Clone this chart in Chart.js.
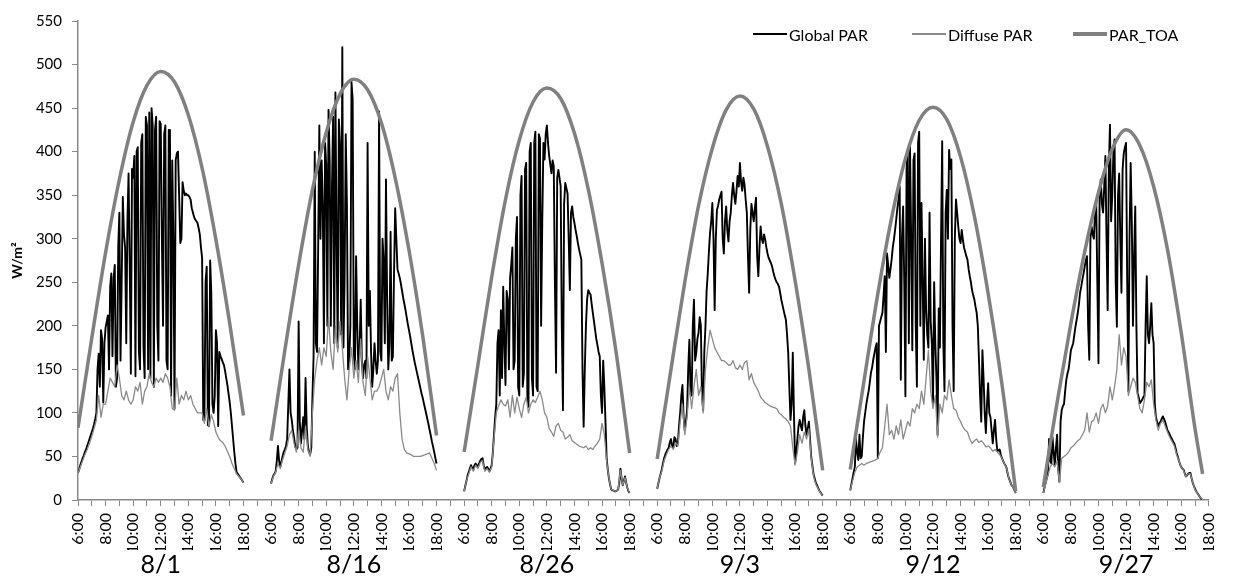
<!DOCTYPE html>
<html>
<head>
<meta charset="utf-8">
<script src="https://cdn.jsdelivr.net/npm/chart.js"></script>
<style>
  body { margin: 0; background: #fff; }
  #wrap { position: relative; width: 1235px; height: 577px; }
  .key { position: absolute; top: 25px; height: 18px; display: flex; align-items: center;
         font: 16px Lato, sans-serif; color: #000; white-space: nowrap; }
  .key i { display: inline-block; width: 34px; margin-right: 2px; }
</style>
</head>
<body>
<div id="wrap">
  <canvas id="parChart" width="1235" height="577"></canvas>
  <div class="key" style="left:753px"><i style="border-top:2px solid #000"></i>Global PAR</div>
  <div class="key" style="left:912px"><i style="border-top:2px solid #8a8a8a"></i>Diffuse PAR</div>
  <div class="key" style="left:1073px"><i style="border-top:4px solid #808080"></i>PAR_TOA</div>
</div>
<script>
// one day = 14 hour slots on the x axis (6:00..18:00 plus a 2 h gap)
var days = ['8/1', '8/16', '8/26', '9/3', '9/12', '9/27'];
var fiveMin = Array.from({ length: 145 }, function (_, i) { return 6 + i / 12; });
var tenMin = Array.from({ length: 73 }, function (_, i) { return 6 + i / 6; });
var toaHours = [6, 7, 8, 9, 10, 11, 12, 13, 14, 15, 16, 17, 18];
var toaHours0927 = [6, 7, 8, 9, 10, 11, 12, 13, 14, 15, 16, 17, 17.55];

// Global PAR, 5 min steps 6:00..18:00 (one row per hour), W/m2
var global0801 = [
  31, 35, 40, 44, 48, 51, 55, 58, 62, 66, 70, 74,
  78, 82, 87, 93, 100, 150, 168, 130, 195, 185, 112, 180,
  198, 205, 212, 150, 245, 260, 165, 255, 270, 130, 140, 290,
  330, 160, 250, 348, 305, 290, 180, 320, 375, 270, 145, 380,
  370, 395, 142, 400, 405, 170, 150, 410, 420, 175, 140, 440,
  430, 150, 445, 140, 450, 430, 130, 425, 440, 200, 160, 435,
  432, 300, 200, 420, 430, 160, 150, 425, 425, 120, 390, 300,
  105, 390, 398, 400, 350, 295, 300, 365, 355, 350, 352, 350,
  350, 348, 345, 335, 330, 325, 322, 320, 318, 312, 305, 290,
  278, 92, 92, 250, 268, 86, 85, 275, 238, 110, 100, 120,
  195, 180, 85, 170, 165, 162, 158, 155, 148, 140, 132, 122,
  112, 100, 85, 70, 55, 42, 32, 30, 28, 26, 24, 22,
  20];
var global0816 = [
  19, 24, 28, 30, 33, 45, 62, 45, 38, 44, 50, 55,
  58, 62, 70, 110, 150, 100, 92, 80, 72, 62, 58, 60,
  205, 90, 65, 80, 95, 70, 140, 85, 62, 55, 52, 60,
  118, 165, 400, 180, 170, 290, 430, 300, 390, 340, 180, 410,
  385, 200, 448, 390, 200, 360, 440, 180, 468, 300, 175, 437,
  410, 190, 520, 175, 255, 420, 340, 150, 160, 200, 480, 460,
  170, 150, 280, 200, 150, 170, 230, 160, 140, 155, 160, 140,
  410, 200, 240, 170, 130, 150, 180, 160, 145, 160, 446, 170,
  160, 300, 275, 180, 368, 230, 150, 180, 308, 160, 165, 260,
  335, 300, 265, 260, 255, 248, 240, 232, 225, 218, 210, 202,
  195, 188, 180, 172, 165, 158, 152, 146, 140, 134, 128, 122,
  117, 111, 105, 99, 93, 87, 80, 74, 67, 61, 55, 48,
  42];
var global0826 = [
  10, 16, 22, 28, 32, 36, 40, 37, 35, 40, 42, 40,
  38, 42, 45, 47, 48, 40, 35, 37, 38, 36, 33, 36,
  40, 55, 75, 95, 110, 180, 195, 120, 218, 140, 245, 180,
  132, 240, 230, 150, 255, 270, 290, 150, 160, 300, 325, 130,
  120, 350, 372, 130, 145, 380, 387, 120, 107, 400, 410, 140,
  120, 410, 423, 130, 125, 420, 415, 200, 320, 410, 391, 420,
  430, 410, 395, 385, 375, 390, 383, 250, 146, 370, 379, 370,
  360, 200, 103, 340, 364, 358, 352, 300, 241, 330, 337, 325,
  318, 310, 303, 295, 288, 282, 276, 150, 84, 150, 200, 230,
  241, 238, 236, 225, 215, 205, 195, 185, 178, 170, 165, 120,
  100, 160, 130, 90, 48, 35, 25, 18, 12, 11, 11, 10,
  10, 11, 12, 20, 36, 25, 17, 22, 27, 20, 14, 10,
  8];
var global0903 = [
  13, 19, 25, 30, 35, 42, 48, 52, 55, 58, 60, 66,
  70, 62, 60, 72, 70, 62, 65, 85, 100, 120, 132, 95,
  80, 90, 103, 150, 184, 125, 120, 200, 230, 160, 169, 185,
  192, 210, 200, 120, 103, 170, 199, 240, 260, 285, 307, 320,
  341, 300, 218, 300, 333, 338, 345, 350, 354, 300, 283, 320,
  337, 310, 297, 320, 330, 350, 364, 350, 340, 355, 372, 360,
  387, 365, 355, 370, 362, 345, 330, 280, 238, 310, 340, 330,
  320, 335, 347, 280, 257, 290, 314, 300, 295, 305, 299, 290,
  283, 278, 275, 272, 268, 262, 257, 253, 250, 248, 245, 238,
  230, 224, 218, 212, 207, 190, 169, 130, 92, 110, 169, 100,
  42, 55, 70, 85, 92, 85, 80, 95, 103, 85, 75, 82,
  90, 70, 50, 40, 30, 25, 20, 17, 14, 11, 9, 7,
  5];
var global0912 = [
  11, 18, 25, 32, 38, 70, 55, 46, 75, 48, 50, 72,
  90, 100, 110, 118, 125, 135, 146, 152, 161, 168, 175, 180,
  48, 200, 205, 210, 215, 235, 257, 170, 283, 270, 255, 265,
  276, 290, 299, 310, 322, 335, 345, 360, 138, 300, 337, 250,
  119, 380, 402, 180, 406, 300, 172, 390, 398, 200, 130, 410,
  423, 200, 341, 250, 161, 300, 218, 190, 175, 330, 205, 180,
  110, 250, 180, 140, 75, 220, 175, 300, 412, 180, 125, 330,
  356, 300, 402, 380, 391, 200, 125, 300, 345, 330, 314, 300,
  295, 310, 299, 290, 285, 280, 276, 265, 257, 250, 241, 235,
  230, 222, 215, 200, 161, 120, 90, 172, 140, 100, 77, 110,
  134, 100, 95, 80, 65, 80, 92, 70, 56, 57, 58, 52,
  48, 45, 42, 40, 37, 30, 25, 22, 18, 16, 14, 11,
  8];
var global0927 = [
  8, 14, 20, 25, 30, 70, 45, 42, 72, 55, 40, 60,
  75, 35, 21, 90, 103, 108, 110, 125, 138, 145, 150, 160,
  172, 176, 180, 190, 199, 207, 215, 225, 238, 245, 253, 260,
  268, 275, 280, 200, 161, 300, 314, 305, 300, 330, 345, 250,
  157, 350, 368, 340, 330, 360, 395, 300, 218, 380, 431, 320,
  350, 400, 414, 250, 199, 350, 375, 300, 238, 380, 398, 405,
  410, 250, 125, 300, 387, 320, 200, 280, 337, 200, 123, 118,
  111, 113, 115, 118, 120, 200, 257, 190, 180, 200, 226, 190,
  180, 110, 95, 90, 85, 88, 90, 93, 96, 93, 90, 85,
  80, 78, 75, 72, 70, 67, 65, 60, 54, 50, 45, 41,
  38, 36, 35, 31, 27, 28, 30, 31, 31, 25, 20, 16,
  13, 10, 8, 6, 4, 2, 1, null, null, null, null, null,
  null];

// Diffuse PAR, 10 min steps 6:00..18:00
var diffuse0801 = [31, 38, 45, 52, 58, 65, 73, 82, 92, 120, 95, 110, 110, 125, 140, 135, 130, 155,
  140, 120, 115, 125, 115, 110, 115, 130, 125, 135, 110, 125, 130, 145, 135, 130, 140, 135,
  140, 135, 145, 140, 130, 105, 103, 140, 110, 120, 115, 125, 115, 120, 110, 105, 100, 100,
  100, 88, 105, 84, 98, 90, 78, 72, 68, 66, 62, 56, 50, 42, 36, 30, 27, 24, 20];
var diffuse0816 = [19, 27, 32, 42, 36, 46, 54, 62, 75, 80, 65, 55, 80, 60, 55, 85, 58, 50,
  100, 140, 160, 175, 155, 175, 165, 210, 170, 150, 200, 170, 205, 175, 140, 115, 150, 175,
  140, 160, 135, 185, 135, 120, 165, 140, 115, 125, 125, 130, 140, 150, 125, 115, 130, 125,
  140, 145, 100, 70, 58, 54, 53, 52, 50, 50, 50, 50, 51, 52, 53, 54, 48, 42, 34];
var diffuse0826 = [10, 22, 30, 38, 33, 40, 36, 43, 45, 33, 36, 32, 38, 70, 100, 108, 115, 110,
  108, 115, 95, 120, 100, 118, 105, 95, 110, 118, 100, 110, 115, 112, 118, 125, 115, 100,
  95, 82, 78, 73, 85, 88, 80, 78, 70, 72, 75, 68, 66, 64, 62, 61, 60, 62,
  58, 60, 58, 62, 65, 70, 88, 75, 45, 25, 12, 11, 10, 12, 34, 17, 26, 14, 8];
var diffuse0903 = [13, 25, 33, 45, 52, 58, 62, 58, 66, 62, 90, 110, 75, 95, 130, 105, 130, 150,
  120, 130, 100, 150, 175, 195, 185, 175, 170, 165, 160, 160, 158, 155, 155, 160, 152, 150,
  155, 150, 158, 160, 138, 145, 135, 130, 125, 118, 115, 112, 110, 108, 107, 106, 105, 100,
  98, 95, 93, 90, 85, 60, 40, 55, 75, 65, 78, 70, 82, 48, 28, 18, 13, 8, 5];
var diffuse0912 = [11, 22, 32, 38, 40, 42, 40, 42, 43, 44, 45, 46, 48, 55, 60, 85, 110, 75,
  80, 70, 85, 75, 92, 70, 80, 90, 85, 105, 100, 110, 105, 125, 110, 140, 172, 125,
  105, 120, 72, 110, 100, 120, 115, 138, 120, 105, 103, 95, 90, 84, 80, 78, 70, 65,
  68, 70, 66, 68, 65, 61, 62, 60, 56, 58, 55, 52, 48, 42, 37, 25, 18, 14, 8];
var diffuse0927 = [8, 18, 28, 38, 42, 38, 45, 20, 48, 50, 52, 55, 60, 62, 65, 68, 70, 75,
  80, 100, 78, 90, 92, 100, 88, 105, 110, 100, 108, 130, 115, 130, 150, 190, 155, 175,
  165, 120, 130, 140, 135, 120, 105, 100, 115, 135, 130, 138, 110, 92, 80, 88, 92, 85,
  78, 72, 67, 62, 52, 45, 38, 34, 27, 30, 30, 20, 12, 8, 4, 1, null, null, null];

// top-of-atmosphere PAR, hourly
var toa0801 = [83, 186, 284, 368, 434, 476, 492, 480, 442, 381, 299, 203, 97];
var toa0816 = [68, 172, 270, 356, 422, 466, 483, 471, 433, 370, 287, 188, 74];
var toa0826 = [55, 155, 256, 345, 413, 457, 473, 461, 421, 357, 272, 172, 54];
var toa0903 = [47, 150, 250, 338, 404, 448, 464, 449, 406, 340, 252, 150, 34];
var toa0912 = [35, 137, 237, 324, 392, 436, 451, 437, 394, 326, 237, 133, 10];
var toa0927 = [15, 112, 203, 285, 353, 403, 425, 407, 360, 288, 192, 82, 30];

// put the six days side by side, with a null between them so the lines break
function joinDays(series, times) {
  var pts = [];
  series.forEach(function (vals, d) {
    if (d > 0) pts.push({ x: d * 14 - 1, y: null });
    var t = times[d];
    vals.forEach(function (v, i) {
      pts.push({ x: d * 14 + t[i] - 6, y: v });
    });
  });
  return pts;
}

var globalPts = joinDays([global0801, global0816, global0826, global0903, global0912, global0927],
  days.map(function () { return fiveMin; }));
var diffusePts = joinDays([diffuse0801, diffuse0816, diffuse0826, diffuse0903, diffuse0912, diffuse0927],
  days.map(function () { return tenMin; }));
var toaPts = joinDays([toa0801, toa0816, toa0826, toa0903, toa0912, toa0927],
  [toaHours, toaHours, toaHours, toaHours, toaHours, toaHours0927]);

var hourTicks = [];
for (var v = 0; v <= 82; v++) hourTicks.push(v);

Chart.defaults.font.family = 'Lato';
Chart.defaults.color = '#000';
var axisGrey = '#898989';

var ctx = document.getElementById('parChart');
var parChart = new Chart(ctx, {
  type: 'line',
  data: {
    datasets: [
      {
        label: 'Global PAR',
        data: globalPts,
        borderColor: '#000',
        borderWidth: 1.9,
        borderJoinStyle: 'round',
        pointRadius: 0,
        order: 2
      },
      {
        label: 'Diffuse PAR',
        data: diffusePts,
        borderColor: '#8a8a8a',
        borderWidth: 1.3,
        borderJoinStyle: 'round',
        pointRadius: 0,
        order: 1
      },
      {
        label: 'PAR_TOA',
        data: toaPts,
        borderColor: '#808080',
        borderWidth: 3.5,
        cubicInterpolationMode: 'monotone',
        pointRadius: 0,
        order: 0
      }
    ]
  },
  options: {
    responsive: false,
    animation: false,
    events: [],
    layout: { padding: { top: 21, right: 9.5, bottom: 0, left: 0 } },
    plugins: {
      legend: { display: false },
      tooltip: { enabled: false }
    },
    scales: {
      x: {
        type: 'linear',
        position: 'bottom',
        weight: 0,
        min: 0,
        max: 82,
        afterBuildTicks: function (s) {
          s.ticks = hourTicks.map(function (h) { return { value: h }; });
        },
        afterFit: function (s) { s.height = 50; },
        grid: { drawOnChartArea: false, tickLength: 6, color: axisGrey },
        border: { color: axisGrey, width: 1.5 },
        ticks: {
          autoSkip: false,
          maxRotation: 90,
          minRotation: 90,
          padding: 7,
          font: { size: 16 },
          callback: function (value) {
            var h = 6 + (value % 14);
            return (h <= 18 && h % 2 === 0) ? h + ':00' : '';
          }
        }
      },
      days: {
        type: 'linear',
        position: 'bottom',
        weight: 1,
        min: 0,
        max: 82,
        afterBuildTicks: function (s) {
          s.ticks = days.map(function (_, i) { return { value: i * 14 + 6 }; });
        },
        afterFit: function (s) { s.height = 27; },
        grid: { display: false, drawTicks: false },
        border: { display: false },
        ticks: {
          autoSkip: false,
          maxRotation: 0,
          minRotation: 0,
          padding: 0,
          font: { size: 25 },
          callback: function (value, i) { return days[i]; }
        }
      },
      y: {
        min: 0,
        max: 550,
        afterFit: function (s) { s.width = 78; },
        grid: { drawOnChartArea: false, tickLength: 6, color: axisGrey },
        border: { color: axisGrey, width: 1.5 },
        ticks: { stepSize: 50, padding: 10, font: { size: 15 } },
        title: {
          display: true,
          text: 'W/m²',
          font: { size: 14, weight: 'bold' },
          padding: { top: 9, bottom: 0 }
        }
      }
    }
  }
});
</script>
</body>
</html>
